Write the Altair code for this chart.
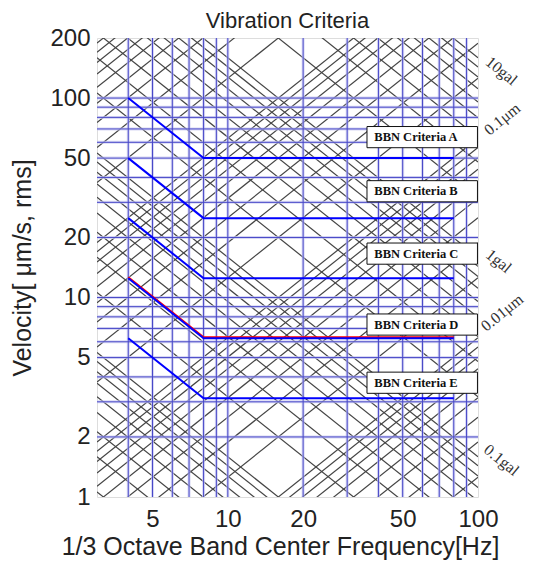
import math
import altair as alt
import pandas as pd

# ---------------- data ----------------
x_domain = [3, 100]
y_domain = [1, 200]
x_ticks = [5, 10, 20, 50, 100]
y_ticks = [1, 2, 5, 10, 20, 50, 100, 200]

# log minor grid lines (blue)
x_grid = [4, 5, 6, 7, 8, 9, 10, 20, 30, 40, 50, 60, 70, 80, 90]
y_grid = [2, 3, 4, 5, 6, 7, 8, 9, 10, 20, 30, 40, 50, 60, 70, 80, 90, 100]

# iso-acceleration levels [gal] and iso-displacement levels [um]
accel_levels = [0.002, 0.003, 0.004, 0.005, 0.006, 0.007, 0.008, 0.009,
                0.01, 0.02, 0.03, 0.04, 0.05, 0.06, 0.07, 0.08, 0.09,
                0.1, 0.2, 0.3, 0.4, 0.5, 0.6, 0.7, 0.8, 0.9,
                1, 2, 3, 4, 5, 6, 7, 8, 9, 10]
disp_levels = [0.002, 0.003, 0.004, 0.005, 0.006, 0.007, 0.008, 0.009,
               0.01, 0.02, 0.03, 0.04, 0.05, 0.06, 0.07, 0.08, 0.09,
               0.1, 0.2, 0.3, 0.4, 0.5, 0.6, 0.7, 0.8, 0.9,
               1, 2, 3, 4, 5, 6, 7, 8, 9, 10]

# BBN criteria curves
crit_names = ["A", "B", "C", "D", "E"]
crit_f = [4, 8, 80]
crit_v = {
    "A": [100, 50, 50],
    "B": [50, 25, 25],
    "C": [25, 12.5, 12.5],
    "D": [12.5, 6.25, 6.25],
    "E": [6.25, 3.125, 3.125],
}

# label boxes
box_text = ["BBN Criteria A", "BBN Criteria B", "BBN Criteria C",
            "BBN Criteria D", "BBN Criteria E"]
box_v = [63.7, 34.1, 16.6, 7.32, 3.74]
box_f_left = 36
box_f_right = 99.5
box_text_f = 38.5

# side labels of iso lines
side_text = ["10gal", "0.1\u03bcm", "1gal", "0.01\u03bcm", "0.1gal"]
side_f = [124, 125, 121, 125, 124]
side_v = [136.7, 78.4, 15.2, 8.4, 1.53]
side_kind = ["acc", "disp", "acc", "disp", "acc"]

# ---------------- tables ----------------
rows = []
for i, a in enumerate(accel_levels):
    for f in x_domain:
        rows.append({"id": f"a{i}", "f": f, "v": a * 1e4 / (2 * math.pi * f)})
for i, d in enumerate(disp_levels):
    for f in x_domain:
        rows.append({"id": f"d{i}", "f": f, "v": 2 * math.pi * f * d})
diag_df = pd.DataFrame(rows)

crit_df = pd.DataFrame([
    {"name": n, "order": k, "f": crit_f[k], "v": crit_v[n][k]}
    for n in crit_names for k in range(3)
])
crit_d_df = crit_df[crit_df["name"] == "D"]

xg_df = pd.DataFrame({"f": x_grid})
yg_df = pd.DataFrame({"v": y_grid})

box_df = pd.DataFrame({
    "text": box_text,
    "v": box_v,
    "lo": [v / 1.13 for v in box_v],
    "hi": [v * 1.13 for v in box_v],
    "fl": [box_f_left] * 5,
    "fr": [box_f_right] * 5,
    "ft": [box_text_f] * 5,
})
side_df = pd.DataFrame({"text": side_text, "f": side_f, "v": side_v, "kind": side_kind})

# ---------------- chart ----------------
FONT = "Liberation Sans"
xs = alt.Scale(type="log", domain=x_domain, nice=False)
ys = alt.Scale(type="log", domain=y_domain, nice=False)

x_axis = alt.Axis(values=x_ticks, format="d", grid=False, ticks=False, domain=False,
                  labelFont=FONT, labelFontSize=24, labelColor="#222",
                  labelPadding=10, labelOverlap=False, labelFlush=False,
                  title="1/3 Octave Band Center Frequency[Hz]",
                  titleFont=FONT, titleFontSize=25, titleFontWeight="normal",
                  titleColor="#222", titlePadding=3, titleX=183)
y_axis = alt.Axis(values=y_ticks, format="d", grid=False, ticks=False, domain=False,
                  labelFont=FONT, labelFontSize=24, labelColor="#222",
                  labelPadding=7, labelOverlap=False, labelFlush=False,
                  title="Velocity[ \u03bcm/s, rms]",
                  titleFont=FONT, titleFontSize=25, titleFontWeight="normal",
                  titleColor="#222", titleX=-75, titleBaseline="middle")


def X(field):
    return alt.X(field, scale=xs, axis=x_axis)


def Y(field):
    return alt.Y(field, scale=ys, axis=y_axis)


diag = alt.Chart(diag_df).mark_line(clip=True, color="#444444", strokeWidth=1.2).encode(
    x=X("f:Q"), y=Y("v:Q"), detail="id:N",
)

vgrid_halo = alt.Chart(xg_df).mark_rule(color="#c8c8f0", strokeWidth=3, opacity=0.7).encode(
    x=X("f:Q"))
vgrid = alt.Chart(xg_df).mark_rule(color="#4848c8", strokeWidth=1).encode(x=X("f:Q"))
hgrid_halo = alt.Chart(yg_df).mark_rule(color="#c8c8f0", strokeWidth=3, opacity=0.7).encode(
    y=Y("v:Q"))
hgrid = alt.Chart(yg_df).mark_rule(color="#4848c8", strokeWidth=1).encode(y=Y("v:Q"))

red_d = alt.Chart(crit_d_df).mark_line(color="#ff0000", strokeWidth=2, yOffset=-1).encode(
    x=X("f:Q"), y=Y("v:Q"), order="order:Q",
)
crit = alt.Chart(crit_df).mark_line(color="#0000ff", strokeWidth=2).encode(
    x=X("f:Q"), y=Y("v:Q"), detail="name:N", order="order:Q",
)

boxes = alt.Chart(box_df).mark_rect(fill="white", stroke="#111", strokeWidth=1).encode(
    x=X("fl:Q"), x2="fr:Q", y=Y("lo:Q"), y2="hi:Q",
)
box_labels = alt.Chart(box_df).mark_text(
    align="left", baseline="middle", font="Liberation Serif", fontWeight="bold",
    fontSize=12.5, color="#111").encode(
    x=X("ft:Q"), y=Y("v:Q"), text="text:N",
)

side_acc = alt.Chart(side_df[side_df["kind"] == "acc"]).mark_text(
    align="center", baseline="middle", font="Liberation Serif", fontSize=16,
    color="#333", angle=39).encode(
    x=X("f:Q"), y=Y("v:Q"), text="text:N",
)
side_disp = alt.Chart(side_df[side_df["kind"] == "disp"]).mark_text(
    align="center", baseline="middle", font="Liberation Serif", fontSize=16,
    color="#333", angle=321).encode(
    x=X("f:Q"), y=Y("v:Q"), text="text:N",
)

chart = alt.layer(
    diag, vgrid_halo, hgrid_halo, vgrid, hgrid, red_d, crit, boxes, box_labels,
    side_acc, side_disp,
).properties(
    width=381,
    height=459,
    title=alt.Title("Vibration Criteria", font=FONT, fontSize=22, fontWeight="normal",
                    color="#222", offset=0, dy=7, anchor="middle"),
    autosize=alt.AutoSizeParams(type="none"),
    padding={"left": 89, "top": 30, "right": 55, "bottom": 65},
).configure_view(
    stroke="#888", strokeWidth=1.5
).configure(background="white")

chart.save("out.html", embed_options={"renderer": "svg", "actions": False})
